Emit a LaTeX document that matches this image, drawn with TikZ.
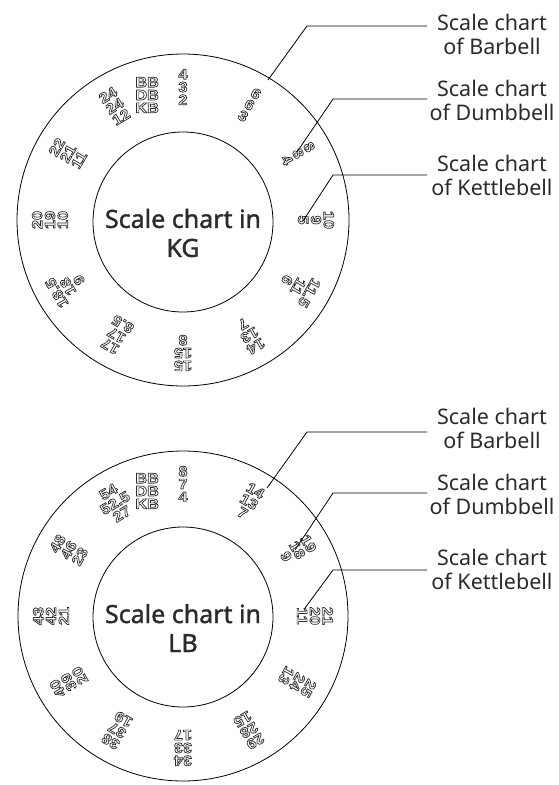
\documentclass[tikz,border=0pt]{standalone}
\usepackage{fontspec}
\setmainfont{Noto Sans}
\newfontfamily\midfont[FakeBold=1.4]{Noto Sans}
\newfontfamily\numfont[FakeStretch=1.12]{Liberation Sans}
\usetikzlibrary{calc}
\definecolor{ink}{HTML}{2B2B2B}
\newcommand\olt[1]{\textcolor{ink}{\special{pdf:literal direct 1 Tr 0.7 w}#1\special{pdf:literal direct 0 Tr}}}
\tikzset{
  ring/.style={circle, draw=black, line width=0.8pt, inner sep=0pt, outer sep=0pt},
  numgrp/.style={align=center, inner sep=0pt, font={\numfont\bfseries\fontsize{14.5}{12.8}\selectfont}},
  centertxt/.style={align=center, inner sep=0pt, text=ink, font={\midfont\fontsize{25}{29}\selectfont}},
  lbl/.style={align=center, inner sep=0pt, text=ink, font={\fontsize{21.5}{24}\selectfont}},
  leader/.style={draw=black, line width=0.8pt}
}
\begin{document}
\begin{tikzpicture}[x=1pt,y=1pt]
\useasboundingbox (0,0) rectangle (558,-785);
\coordinate (kc) at (183,-220);
\coordinate (lc) at (183,-616);
% ---------- KG chart ----------
\node[ring, minimum size=332pt] (kout) at (kc) {};
\node[ring, minimum size=180pt] (kin) at (183,-222) {};
\node[numgrp] (khead) at ($(kc)+(106:130)$) {\olt{BB}\\\olt{DB}\\\olt{KB}};
\foreach \i/\ang/\a/\b/\c in {1/90/4/3/2, 2/60/6/6/3, 3/30/8/8/4, 4/0/10/9/5,
  5/-30/11.5/11/6, 6/-60/14/13/7, 7/-90/15/15/8, 8/-120/17/17/8.5,
  9/-150/18.5/18/9, 10/180/20/19/10, 11/150/22/21/11, 12/121/24/24/12}
  \node[numgrp, rotate=\ang-90] (kg\i) at ($(kc)+(\ang:133)$) {\olt{\a}\\\olt{\b}\\\olt{\c}};
\node[lbl] (kbar) at (492,-34) {Scale chart\\of Barbell};
\node[lbl] (kdum) at (492,-100.5) {Scale chart\\of Dumbbell};
\node[lbl] (kket) at (492,-175.5) {Scale chart\\of Kettlebell};
\coordinate (kbark) at (307,-26);  \coordinate (kbare) at (268,-80);
\coordinate (kdumk) at (333,-99);  \coordinate (kdume) at (297,-152);
\coordinate (kketk) at (333,-175); \coordinate (kkete) at (303,-221);
\draw[leader] ([xshift=-65pt]kbar.center |- kbark) -- (kbark) -- (kbare);
\draw[leader] ([xshift=-65pt]kdum.center |- kdumk) -- (kdumk) -- (kdume);
\draw[leader] ([xshift=-65pt]kket.center |- kketk) -- (kketk) -- (kkete);
% ---------- LB chart ----------
\node[ring, minimum size=330pt] (lout) at (lc) {};
\node[ring, minimum size=180pt] (lin) at (183,-617) {};
\node[numgrp] (lhead) at ($(lc)+(106:130)$) {\olt{BB}\\\olt{DB}\\\olt{KB}};
\foreach \i/\ang/\a/\b/\c in {1/90/8/7/4, 2/60/14/13/7, 3/30/19/18/9, 4/0/21/20/11,
  5/-30/25/24/13, 6/-60/29/28/15, 7/-90/34/33/17, 8/-120/38/37/19,
  9/-150/40/39/20, 10/180/43/42/21, 11/150/48/46/23, 12/121/54/52.5/27}
  \node[numgrp, rotate=\ang-90] (lb\i) at ($(lc)+(\ang:132)$) {\olt{\a}\\\olt{\b}\\\olt{\c}};
\node[lbl] (lbar) at (492,-428.5) {Scale chart\\of Barbell};
\node[lbl] (ldum) at (492,-494.5) {Scale chart\\of Dumbbell};
\node[lbl] (lket) at (492,-569) {Scale chart\\of Kettlebell};
\coordinate (lbark) at (307,-432); \coordinate (lbare) at (267,-488);
\coordinate (ldumk) at (333,-493); \coordinate (ldume) at (295,-550);
\coordinate (lketk) at (333,-570); \coordinate (lkete) at (305,-608);
\draw[leader] ([xshift=-65pt]lbar.center |- lbark) -- (lbark) -- (lbare);
\draw[leader] ([xshift=-65pt]ldum.center |- ldumk) -- (ldumk) -- (ldume);
\draw[leader] ([xshift=-65pt]lket.center |- lketk) -- (lketk) -- (lkete);
% ---------- centre titles (drawn last) ----------
\node[centertxt] (ktxt) at (183,-233) {Scale chart in\\KG};
\node[centertxt] (ltxt) at (183,-628) {Scale chart in\\LB};
\end{tikzpicture}
\end{document}
